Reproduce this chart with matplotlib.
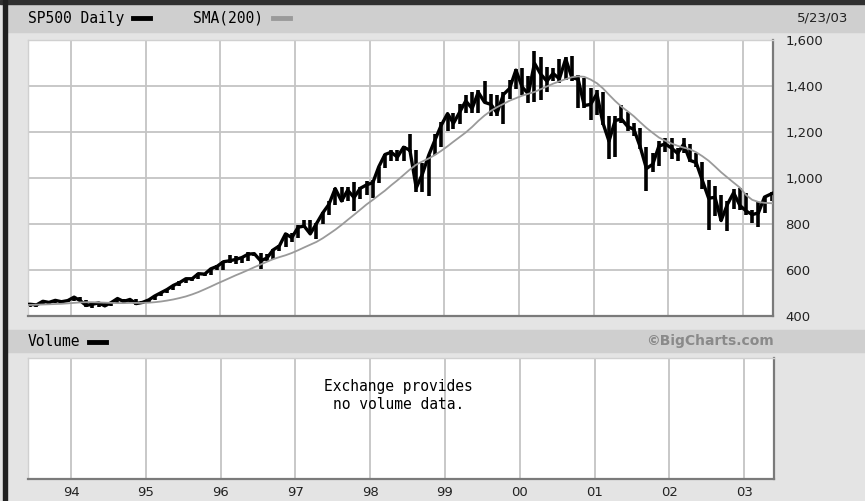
import numpy as np
import pandas as pd
import matplotlib
matplotlib.use("Agg")
import matplotlib.pyplot as plt
from matplotlib.patches import Rectangle
from matplotlib.lines import Line2D

# monthly S&P 500 values (first/last months are partial)
start_date = "1993-05-24"
end_date = "2003-05-23"
months = pd.period_range("1993-05", "2003-05", freq="M")

close = [
    450, 451, 448, 464, 459, 468, 462, 467,
    482, 467, 446, 451, 457, 444, 458, 476, 463, 472, 454, 459,
    470, 487, 501, 515, 533, 545, 562, 562, 584, 582, 605, 616,
    636, 640, 646, 654, 669, 671, 640, 652, 687, 705, 757, 741,
    786, 791, 757, 801, 848, 885, 954, 900, 947, 915, 955, 970,
    980, 1049, 1102, 1112, 1091, 1134, 1121, 957, 1017, 1099, 1164, 1229,
    1280, 1238, 1286, 1335, 1302, 1373, 1329, 1320, 1283, 1363, 1389, 1469,
    1395, 1366, 1499, 1452, 1421, 1455, 1431, 1518, 1437, 1429, 1315, 1320,
    1366, 1240, 1160, 1250, 1256, 1224, 1211, 1134, 1041, 1060, 1139, 1148,
    1130, 1107, 1147, 1077, 1067, 990, 912, 916, 815, 886, 936, 880,
    856, 841, 848, 917, 933,
]
high = [
    453, 454, 451, 464, 464, 471, 468, 471,
    483, 482, 469, 453, 458, 463, 459, 477, 476, 474, 474, 465,
    473, 488, 504, 516, 534, 552, 565, 564, 586, 587, 608, 623,
    637, 664, 661, 657, 680, 675, 673, 668, 690, 710, 760, 760,
    795, 818, 817, 805, 851, 899, 957, 962, 961, 983, 963, 986,
    992, 1050, 1106, 1123, 1122, 1138, 1190, 1121, 1066, 1100, 1193, 1244,
    1280, 1283, 1321, 1362, 1375, 1383, 1420, 1367, 1361, 1373, 1427, 1474,
    1478, 1444, 1553, 1528, 1481, 1477, 1518, 1525, 1530, 1450, 1433, 1390,
    1384, 1376, 1268, 1269, 1316, 1286, 1239, 1217, 1135, 1110, 1163, 1173,
    1176, 1131, 1173, 1147, 1107, 1071, 993, 965, 924, 900, 954, 955,
    935, 862, 895, 919, 939,
]
low = [
    444, 438, 441, 446, 452, 456, 455, 460,
    464, 464, 437, 435, 440, 442, 444, 456, 456, 459, 448, 451,
    458, 469, 485, 500, 511, 531, 544, 551, 560, 573, 578, 602,
    598, 631, 627, 631, 640, 660, 605, 638, 648, 684, 702, 722,
    737, 785, 756, 733, 799, 838, 883, 897, 898, 855, 907, 927,
    912, 980, 1044, 1076, 1074, 1074, 1112, 940, 940, 923, 1098, 1136,
    1205, 1212, 1234, 1282, 1281, 1281, 1328, 1268, 1268, 1233, 1342, 1387,
    1361, 1325, 1331, 1339, 1374, 1420, 1414, 1428, 1420, 1305, 1305, 1254,
    1274, 1229, 1081, 1091, 1237, 1203, 1182, 1126, 944, 1026, 1054, 1112,
    1081, 1074, 1108, 1071, 1048, 952, 775, 834, 815, 768, 866, 861,
    840, 806, 789, 847, 902,
]
sma200 = [
    447, 448, 449, 450, 451, 452, 453, 455,
    457, 459, 460, 460, 459, 458, 457, 456, 456, 457, 457, 457,
    458, 460, 463, 467, 472, 478, 485, 494, 504, 516, 528, 541,
    553, 565, 577, 588, 600, 612, 624, 636, 647, 656, 664, 674,
    686, 698, 710, 722, 738, 756, 775, 796, 818, 840, 862, 885,
    905, 925, 945, 968, 990, 1013, 1037, 1058, 1072, 1085, 1100, 1118,
    1138, 1158, 1178, 1198, 1222, 1248, 1272, 1292, 1308, 1322, 1336, 1347,
    1358, 1366, 1374, 1386, 1398, 1410, 1420, 1430, 1438, 1442, 1440, 1428,
    1412, 1390, 1362, 1335, 1310, 1290, 1268, 1242, 1218, 1196, 1176, 1162,
    1150, 1140, 1132, 1125, 1112, 1095, 1075, 1050, 1025, 1002, 980, 958,
    925, 905, 896, 892, 890,
]

price_ticks = [400, 600, 800, 1000, 1200, 1400, 1600]
year_ticks = list(range(1994, 2004))
year_labels = ["94", "95", "96", "97", "98", "99", "00", "01", "02", "03"]


def dec_year(ts):
    ts = pd.DatetimeIndex(ts)
    return ts.year + (ts.dayofyear - 0.5) / np.where(ts.is_leap_year, 366, 365)


mid = months.start_time + (months.end_time - months.start_time) / 2
mid = mid.to_numpy().copy()
mid[0] = np.datetime64(start_date)
mid[-1] = np.datetime64(end_date)
t = np.asarray(dec_year(mid))

W, H = 865, 501
BG = "#e4e4e4"
BAND = "#cfcfcf"
GRID = "#c4c4c4"
MONO = "DejaVu Sans Mono"

fig = plt.figure(figsize=(W / 100, H / 100), dpi=100)
fig.patch.set_facecolor(BG)


def box(x0, y0, x1, y1):
    # pixel box (top-left origin) -> figure fraction rect
    return [x0 / W, 1 - y1 / H, (x1 - x0) / W, (y1 - y0) / H]


def fx(x):
    return x / W


def fy(y):
    return 1 - y / H


# bands and border
for b in [(6, 4, W, 32), (6, 330, W, 352)]:
    fig.patches.append(Rectangle((fx(b[0]), fy(b[3])), fx(b[2] - b[0]), (b[3] - b[1]) / H,
                                 transform=fig.transFigure, color=BAND, zorder=0))
fig.patches.append(Rectangle((0, fy(4)), 1, 4 / H, transform=fig.transFigure,
                             color="#303030", zorder=1))
fig.patches.append(Rectangle((fx(3), 0), 4 / W, 1, transform=fig.transFigure,
                             color="#202020", zorder=1))

# header texts
fig.text(fx(28), fy(18), "SP500 Daily", family=MONO, fontsize=10.5, va="center")
fig.add_artist(Line2D([fx(133), fx(150)], [fy(18), fy(18)], color="black", lw=3.5,
                      transform=fig.transFigure))
fig.text(fx(193), fy(18), "SMA(200)", family=MONO, fontsize=10.5, va="center")
fig.add_artist(Line2D([fx(273), fx(290)], [fy(18), fy(18)], color="#9a9a9a", lw=3.5,
                      transform=fig.transFigure))
fig.text(fx(848), fy(18), "5/23/03", fontsize=9.5, ha="right", va="center", color="#222222")

fig.text(fx(28), fy(342), "Volume", family=MONO, fontsize=10.5, va="center")
fig.add_artist(Line2D([fx(89), fx(106)], [fy(342), fy(342)], color="black", lw=3.5,
                      transform=fig.transFigure))
fig.text(fx(774), fy(341), "\u00a9BigCharts.com", fontsize=10, fontweight="bold",
         ha="right", va="center", color="#8a8a8a")


def style(ax):
    ax.set_facecolor("white")
    ax.set_xlim(1993.425, 2003.40)
    ax.set_xticks(year_ticks)
    ax.grid(True, color=GRID, lw=1.3)
    ax.set_axisbelow(True)
    for s in ("top", "left"):
        ax.spines[s].set_color("#d0d0d0")
        ax.spines[s].set_linewidth(1)
    for s in ("bottom", "right"):
        ax.spines[s].set_color("#7a7a7a")
        ax.spines[s].set_linewidth(1.6)
    ax.tick_params(length=0)


# price panel
ax = fig.add_axes(box(28, 40, 773, 316))
style(ax)
ax.set_ylim(400, 1600)
ax.set_yticks(price_ticks)
ax.set_yticklabels([f"{v:,}" for v in price_ticks], fontsize=9.5, color="#222222")
ax.yaxis.tick_right()
ax.tick_params(axis="y", pad=9)
ax.set_xticklabels([])
ax.vlines(t, low, high, color="black", lw=2.6, zorder=2)
ax.plot(t, close, color="black", lw=2.4, zorder=3)
ax.plot(t, sma200, color="#9a9a9a", lw=1.3, zorder=4)

# volume panel
ax2 = fig.add_axes(box(28, 358, 774, 479))
style(ax2)
ax2.set_ylim(0, 1)
ax2.set_yticks([])
ax2.grid(True, axis="x", color=GRID, lw=1.3)
ax2.grid(False, axis="y")
ax2.set_xticklabels(year_labels, fontsize=9.5, color="#222222")
ax2.tick_params(axis="x", pad=5)
ax2.text(0.497, 0.69, "Exchange provides\nno volume data.", transform=ax2.transAxes,
         family=MONO, fontsize=10.5, ha="center", va="center", linespacing=1.25)

fig.savefig("out.png", dpi=100, facecolor=BG)
